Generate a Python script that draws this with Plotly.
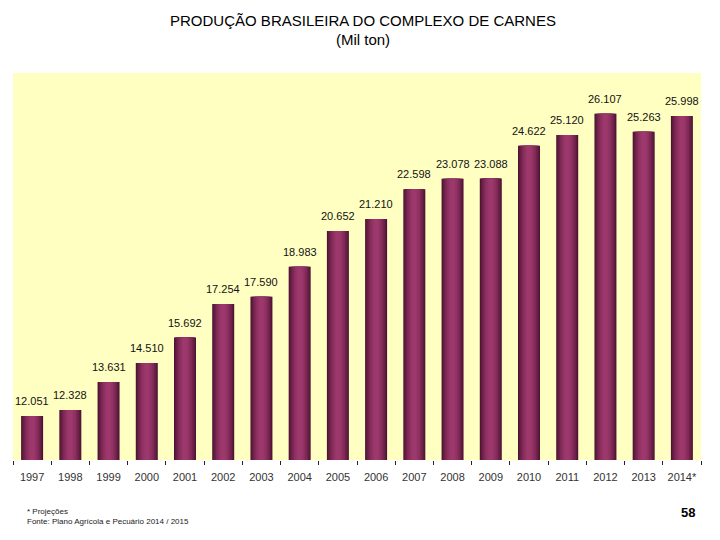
import plotly.graph_objects as go

years = ["1997", "1998", "1999", "2000", "2001", "2002", "2003", "2004", "2005",
         "2006", "2007", "2008", "2009", "2010", "2011", "2012", "2013", "2014*"]
production = [12051, 12328, 13631, 14510, 15692, 17254, 17590, 18983, 20652,
              21210, 22598, 23078, 23088, 24622, 25120, 26107, 25263, 25998]

labels = [f"{v/1000:.3f}" for v in production]

fig = go.Figure()

# simulate cylindrical shading with stacked overlaid bars of decreasing width
layers = [
    (0.575, "#4a1230"),
    (0.53, "#5e1a3e"),
    (0.46, "#6e2249"),
    (0.38, "#7d2955"),
    (0.30, "#8a2f5e"),
    (0.22, "#943466"),
    (0.13, "#9c386c"),
]
for w, c in layers:
    fig.add_trace(go.Bar(
        x=years, y=production, width=w,
        marker=dict(color=c, line=dict(width=0)),
        hoverinfo="skip", showlegend=False,
    ))

for i, (v, lab) in enumerate(zip(production, labels)):
    fig.add_annotation(
        x=i, y=v, text=lab, showarrow=False, yanchor="bottom", yshift=7,
        font=dict(family="Liberation Sans", size=11, color="#111111"),
    )

fig.update_layout(
    width=712, height=532,
    barmode="overlay",
    paper_bgcolor="white",
    plot_bgcolor="#FFFFC2",
    margin=dict(l=5, r=19, t=65, b=80, autoexpand=False),
    title=dict(
        text="PRODUÇÃO BRASILEIRA DO COMPLEXO DE CARNES<br>(Mil ton)",
        x=(355 - 5) / 688 * 688 / 712 + 5 / 712, xanchor="center",
        y=0.967, yanchor="top",
        font=dict(family="Liberation Sans", size=15, color="black"),
    ),
    xaxis=dict(
        type="category", showgrid=False, zeroline=False, showline=False,
        ticks="outside", tickson="boundaries", ticklen=4, tickcolor="#222222",
        tickangle=0, automargin=False, ticklabelstandoff=9,
        tickfont=dict(family="Liberation Sans", size=11, color="#333333"),
        range=[-0.5, len(years) - 0.5],
    ),
    yaxis=dict(range=[10000, 28000], visible=False, showgrid=False, automargin=False),
    font=dict(family="Liberation Sans"),
)

fig.add_annotation(
    xref="paper", yref="paper", x=0.017, y=-0.116, xanchor="left", yanchor="top",
    text="* Projeções<br>Fonte: Plano Agrícola e Pecuário 2014 / 2015",
    showarrow=False, align="left",
    font=dict(family="Liberation Sans", size=8, color="#222222"),
)
fig.add_annotation(
    xref="paper", yref="paper", x=0.994, y=-0.111, xanchor="right", yanchor="top",
    text="<b>58</b>", showarrow=False,
    font=dict(family="Liberation Sans", size=13, color="black"),
)

fig.write_html("out.html")
